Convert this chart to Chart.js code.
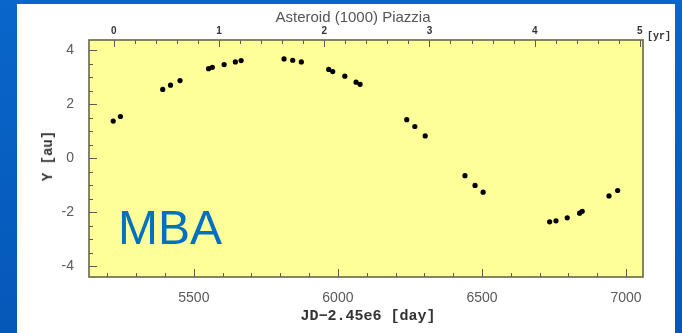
<!DOCTYPE html>
<html>
<head>
<meta charset="utf-8">
<script src="https://cdn.jsdelivr.net/npm/chart.js@4.4.1/dist/chart.umd.min.js"></script>
<style>
  html, body { margin:0; padding:0; }
  body { width:682px; height:333px; overflow:hidden; background:linear-gradient(#0a66cb, #0558b8); position:relative; }
  .panel { position:absolute; left:17px; top:4px; width:658px; height:329px; background:#fff; }
  .wrap { position:absolute; left:0; top:0; width:682px; height:333px; }
  .txt { position:absolute; white-space:nowrap; }
  #title { left:353px; top:16px; transform:translate(-50%,-50%); font:15px "Liberation Sans", Arial, sans-serif; color:#555; }
  #xlab { left:368px; top:316px; transform:translate(-50%,-50%); font:bold 15px "Liberation Mono", monospace; color:#333; }
  #ylab { left:48px; top:156px; transform:translate(-50%,-50%) rotate(-90deg); font:bold 14px "Liberation Mono", monospace; color:#333; }
  #yr { left:647px; top:31px; font:bold 10px "Liberation Mono", monospace; color:#333; }
  #mba { left:118px; top:204px; font:48px/48px "Liberation Sans", Arial, sans-serif; color:#0070c0; }
</style>
</head>
<body>
<div class="panel"></div>
<div class="wrap"><canvas id="chartY"></canvas></div>
<div class="txt" id="title">Asteroid (1000) Piazzia</div>
<div class="txt" id="yr">[yr]</div>
<div class="txt" id="ylab">Y [au]</div>
<div class="txt" id="xlab">JD−2.45e6 [day]</div>
<div class="txt" id="mba">MBA</div>
<script>
// observation epochs (JD - 2450000) and heliocentric Y [au]
const days = [5220, 5245, 5392, 5419, 5452, 5551, 5564, 5605, 5644, 5664,
              5813, 5843, 5873, 5968, 5982, 6024, 6063, 6077,
              6239, 6267, 6303, 6441, 6476, 6504,
              6735, 6757, 6796, 6839, 6848, 6941, 6971];
const yAu = [1.37, 1.54, 2.54, 2.70, 2.87, 3.31, 3.36, 3.46, 3.56, 3.61,
             3.67, 3.62, 3.56, 3.28, 3.20, 3.03, 2.81, 2.73,
             1.42, 1.17, 0.82, -0.65, -1.01, -1.26,
             -2.36, -2.32, -2.21, -2.04, -1.97, -1.40, -1.20];

const dayTicks = [5500, 6000, 6500, 7000];
const yearTicks = [0, 1, 2, 3, 4, 5];
const auTicks = [-4, -2, 0, 2, 4];
const dayMinor = 100, yearMinor = 0.2, auMinor = 0.5;

const dayMin = 5136, dayMax = 7059;
const yearZero = 5222;   // day of year 0 on the top axis
const auMin = -4.4, auMax = 4.37;

const frame = {
  id: 'frame',
  beforeDraw(chart){
    const {ctx, chartArea:a} = chart;
    ctx.save();
    ctx.fillStyle = '#ffff99';
    ctx.fillRect(a.left, a.top, a.right - a.left, a.bottom - a.top);
    ctx.restore();
  },
  afterDraw(chart){
    const {ctx, chartArea:a, scales} = chart;
    ctx.save();
    ctx.strokeStyle = '#5c5c48';
    ctx.lineWidth = 1;
    ctx.beginPath();
    for(let d = 5200; d <= dayMax; d += dayMinor){
      const px = Math.round(scales.x.getPixelForValue(d)) + 0.5;
      const len = d % 500 === 0 ? 8 : 4;
      ctx.moveTo(px, a.bottom); ctx.lineTo(px, a.bottom - len);
    }
    for(let i = 0; i <= 25; i++){
      const v = i * yearMinor;
      const px = Math.round(scales.x2.getPixelForValue(v)) + 0.5;
      const len = i % 5 === 0 ? 7 : 4;
      ctx.moveTo(px, a.top); ctx.lineTo(px, a.top + len);
    }
    for(let v = -4; v <= 4; v += auMinor){
      const py = Math.round(scales.y.getPixelForValue(v)) + 0.5;
      const len = v % 2 === 0 ? 8 : 4;
      ctx.moveTo(a.left, py); ctx.lineTo(a.left + len, py);
    }
    ctx.stroke();
    ctx.lineWidth = 1.6;
    ctx.strokeStyle = '#66664a';
    ctx.strokeRect(a.left, a.top, a.right - a.left, a.bottom - a.top);
    ctx.restore();
  }
};

function fixedTicks(list){
  return function(scale){ scale.ticks = list.map(v => ({ value: v })); };
}

new Chart(document.getElementById('chartY').getContext('2d'), {
  type: 'scatter',
  data: {
    datasets: [{
      data: days.map((d, i) => ({ x: d, y: yAu[i] })),
      backgroundColor: '#000',
      borderColor: '#000',
      pointRadius: 2.6,
      pointBorderWidth: 0
    }]
  },
  options: {
    responsive: true,
    maintainAspectRatio: false,
    animation: false,
    layout: { padding: { left: 0, top: 0, right: 39, bottom: 0 } },
    plugins: { legend: { display: false }, tooltip: { enabled: false } },
    scales: {
      x: {
        type: 'linear', position: 'bottom', min: dayMin, max: dayMax,
        afterBuildTicks: fixedTicks(dayTicks),
        afterFit(s){ s.height = 56; },
        grid: { display: false }, border: { display: false },
        ticks: { padding: 5, autoSkip: false, maxRotation: 0, color: '#5a5a5a',
                 font: { family: 'Liberation Sans', size: 14 }, callback: v => String(v) }
      },
      x2: {
        type: 'linear', position: 'top',
        min: (dayMin - yearZero) / 365.25, max: (dayMax - yearZero) / 365.25,
        afterBuildTicks: fixedTicks(yearTicks),
        afterFit(s){ s.height = 40; },
        grid: { display: false }, border: { display: false },
        ticks: { padding: -5, autoSkip: false, maxRotation: 0, color: '#333',
                 font: { family: 'Liberation Sans', size: 10, weight: 'bold' }, callback: v => String(v) }
      },
      y: {
        type: 'linear', position: 'left', min: auMin, max: auMax,
        afterBuildTicks: fixedTicks(auTicks),
        afterFit(s){ s.width = 89; },
        grid: { display: false }, border: { display: false },
        ticks: { padding: 7, autoSkip: false, color: '#5a5a5a',
                 font: { family: 'Liberation Sans', size: 14 }, callback: v => String(v) }
      }
    }
  },
  plugins: [frame]
});
</script>
</body>
</html>
